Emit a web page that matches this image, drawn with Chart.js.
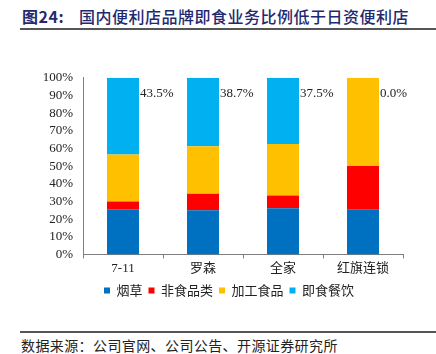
<!DOCTYPE html>
<html>
<head>
<meta charset="utf-8">
<script src="https://cdn.jsdelivr.net/npm/chart.js@4"></script>
<style>
  body { margin: 0; width: 436px; height: 354px; background: #fff; position: relative; overflow: hidden; }
  #title { position: absolute; left: 22px; top: 4px; font: 500 16px "Noto Sans CJK SC", sans-serif; color: #1f2a70; white-space: nowrap; letter-spacing: 0.5px; }
  #title .num { margin-right: 15px; font-weight: bold; }
  .rule { position: absolute; left: 20px; right: 0; height: 1.5px; background: #555; }
  #source { position: absolute; left: 21px; top: 335px; font: 14px "Noto Sans CJK SC", sans-serif; color: #222; white-space: nowrap; letter-spacing: 0.4px; }
  #box { position: absolute; left: 0; top: 60px; width: 436px; height: 255px; }
</style>
</head>
<body>
<div id="title"><span class="num">图24:</span>国内便利店品牌即食业务比例低于日资便利店</div>
<div class="rule" style="top:28px"></div>
<div id="box"><canvas id="chart"></canvas></div>
<div class="rule" style="top:331px"></div>
<div id="source">数据来源：公司官网、公司公告、开源证券研究所</div>
<script>
// Data (share of sales, %)
const categories = ["7-11", "罗森", "全家", "红旗连锁"];
const tobacco = [25.5, 25.0, 26.2, 25.3];
const nonFood = [4.5, 9.3, 7.1, 24.7];
const processedFood = [26.5, 27.0, 29.2, 50.0];
const readyFood = [43.5, 38.7, 37.5, 0.0];
const yTicks = [0, 10, 20, 30, 40, 50, 60, 70, 80, 90, 100];

const serif = "'Liberation Serif', 'Noto Sans CJK SC', serif";
const cjk = "'Noto Sans CJK SC', sans-serif";

// labels for the ready-food share, right of each bar near the top
const readyLabels = {
    id: "readyLabels",
    afterDatasetsDraw(chart) {
        const ctx = chart.ctx;
        const meta = chart.getDatasetMeta(3);
        const top = chart.scales.y.getPixelForValue(100);
        ctx.save();
        ctx.font = "13px " + serif;
        ctx.fillStyle = "#222";
        ctx.textBaseline = "middle";
        ctx.textAlign = "left";
        meta.data.forEach((bar, i) => {
            ctx.fillText(readyFood[i].toFixed(1) + "%", bar.x + bar.width / 2 + 1, top + 16);
        });
        ctx.restore();
    },
};

// the legend sits a little right of the canvas centre, as in the source chart
const legendShift = {
    id: "legendShift",
    afterLayout(chart) {
        chart.legend.left = 55;
        chart.legend.right = chart.chartArea.right;
    },
};

const ctx = document.getElementById("chart").getContext("2d");
new Chart(ctx, {
    type: "bar",
    data: {
        labels: categories,
        datasets: [
            { label: "烟草", data: tobacco, backgroundColor: "#0070C0" },
            { label: "非食品类", data: nonFood, backgroundColor: "#FF0000" },
            { label: "加工食品", data: processedFood, backgroundColor: "#FFC000" },
            { label: "即食餐饮", data: readyFood, backgroundColor: "#00B0F0" },
        ],
    },
    options: {
        responsive: true,
        maintainAspectRatio: false,
        animation: false,
        layout: { padding: { left: 0, right: 33, top: 15, bottom: 8 } },
        datasets: { bar: { categoryPercentage: 1, barPercentage: 0.4 } },
        plugins: {
            legend: {
                position: "bottom",
                labels: {
                    boxWidth: 6,
                    boxHeight: 6,
                    padding: 6,
                    color: "#222",
                    font: { family: cjk, size: 13 },
                },
            },
            tooltip: { enabled: false },
        },
        scales: {
            x: {
                stacked: true,
                grid: {
                    offset: true,
                    drawOnChartArea: false,
                    drawTicks: true,
                    tickLength: 4,
                    color: "#7f7f7f",
                },
                border: { color: "#7f7f7f" },
                ticks: { color: "#222", padding: 2, font: { family: serif, size: 13 } },
            },
            y: {
                stacked: true,
                min: 0,
                max: 100,
                afterBuildTicks: (scale) => {
                    scale.ticks = yTicks.map((v) => ({ value: v }));
                },
                afterFit: (scale) => {
                    scale.width = 83;
                },
                grid: { display: false, drawTicks: false },
                border: { display: true, color: "#7f7f7f" },
                ticks: {
                    autoSkip: false,
                    color: "#222",
                    padding: 10,
                    font: { family: serif, size: 13 },
                    callback: (v) => v + "%",
                },
            },
        },
    },
    plugins: [readyLabels, legendShift],
});
</script>
</body>
</html>
